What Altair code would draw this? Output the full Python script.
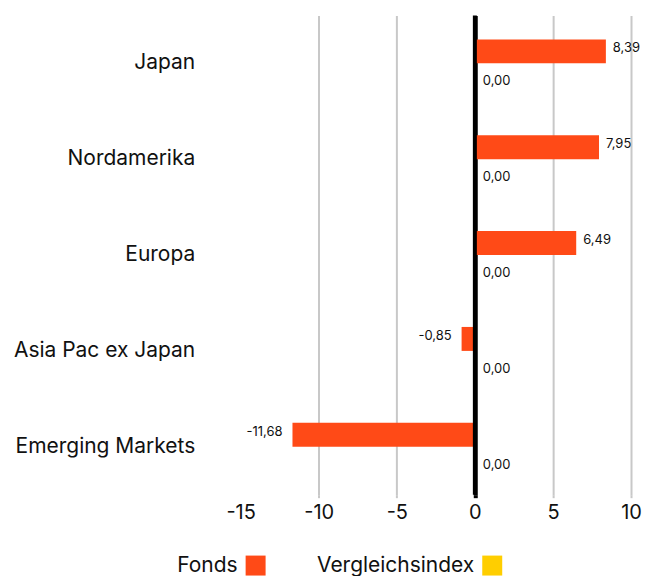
import altair as alt
import pandas as pd

regions = ["Japan", "Nordamerika", "Europa", "Asia Pac ex Japan", "Emerging Markets"]
series = ["Fonds", "Vergleichsindex"]
fonds = [8.39, 7.95, 6.49, -0.85, -11.68]
vergleich = [0.00, 0.00, 0.00, 0.00, 0.00]
colors = ["#FF4A17", "#FFCE00"]
x_ticks = [-15, -10, -5, 0, 5, 10]
zero_line = [0]

rows = []
for r, f, v in zip(regions, fonds, vergleich):
    rows.append({"region": r, "series": series[0], "value": f})
    rows.append({"region": r, "series": series[1], "value": v})
df = pd.DataFrame(rows)

FONT = "Inter"
GRID = "#c8c8c8"
TXT = "#111111"

color_scale = alt.Scale(domain=series, range=colors)

base = alt.Chart(df).encode(
    y=alt.Y("region:N", sort=regions, title=None,
            scale=alt.Scale(paddingInner=0.5, paddingOuter=0.25),
            axis=alt.Axis(domain=False, ticks=False, labelFontSize=21, labelLimit=400,
                          labelPadding=46, labelColor=TXT, labelFont=FONT)),
    yOffset=alt.YOffset("series:N", sort=series,
                        scale=alt.Scale(domain=series, paddingInner=0, paddingOuter=0)),
)

bars = base.mark_bar().encode(
    x=alt.X("value:Q", title=None,
            scale=alt.Scale(domain=[-15, 10], nice=False, zero=False),
            axis=alt.Axis(values=x_ticks, domain=False, grid=True,
                          gridColor={"condition": {"test": "datum.value === 0", "value": "#000"}, "value": GRID},
                          gridWidth={"condition": {"test": "datum.value === 0", "value": 4}, "value": 2},
                          gridOpacity={"condition": {"test": "datum.value === -15", "value": 0}, "value": 1},
                          tickColor={"condition": {"test": "datum.value === 0", "value": "#000"}, "value": GRID},
                          tickWidth={"condition": {"test": "datum.value === 0", "value": 4}, "value": 2},
                          tickOpacity={"condition": {"test": "datum.value === -15", "value": 0}, "value": 1},
                          tickSize=3,
                          labelFontSize=20, labelColor=TXT, labelFont=FONT,
                          labelPadding=5, labelFlush=False,
                          labelExpr="datum.value + ''")),
    color=alt.Color("series:N", scale=color_scale, legend=None),
)

label_expr = "replace(replace(format(datum.value, '.2f'), '.', ','), '\u2212', '-')"

lab_base = base.transform_calculate(label=label_expr).encode(
    x=alt.X("value:Q"),
    text=alt.Text("label:N"),
)

lab_pos = lab_base.transform_filter(
    "datum.series === 'Fonds' && datum.value >= 0"
).mark_text(align="left", baseline="middle", dx=7, dy=-3, fontSize=13, font=FONT, color=TXT)

lab_neg = lab_base.transform_filter(
    "datum.series === 'Fonds' && datum.value < 0"
).mark_text(align="right", baseline="middle", dx=-10, dy=-3, fontSize=13, font=FONT, color=TXT)

lab_ref = lab_base.transform_filter(
    "datum.series === 'Vergleichsindex'"
).mark_text(align="left", baseline="middle", dx=8, dy=6, fontSize=13, font=FONT, color=TXT)

zero = alt.Chart(pd.DataFrame({"z": zero_line})).mark_rule(color="#000", strokeWidth=4).encode(
    x=alt.X("z:Q")
)

main = alt.layer(bars, zero, lab_pos, lab_neg, lab_ref).properties(width=391, height=480)

leg_df = pd.DataFrame({"series": series})
leg_base = alt.Chart(leg_df).encode(
    x=alt.X("series:N", sort=series, axis=None,
            scale=alt.Scale(type="point", padding=0)),
)
leg_text = leg_base.mark_text(align="right", baseline="middle", dx=-3, fontSize=21,
                              font=FONT, color=TXT).encode(text="series:N")
leg_sq = leg_base.mark_square(size=400, xOffset=15, opacity=1, filled=True).encode(
    color=alt.Color("series:N", scale=color_scale, legend=None)
)
legend = alt.layer(leg_text, leg_sq).properties(width=237, height=20)

chart = alt.vconcat(main, legend, spacing=61, bounds="flush").properties(
    padding={"left": 5, "top": 5, "right": 0, "bottom": 0}
).configure(
    font=FONT
).configure_view(strokeWidth=0)

chart.save("out.html", embed_options={"renderer": "svg", "actions": False})
